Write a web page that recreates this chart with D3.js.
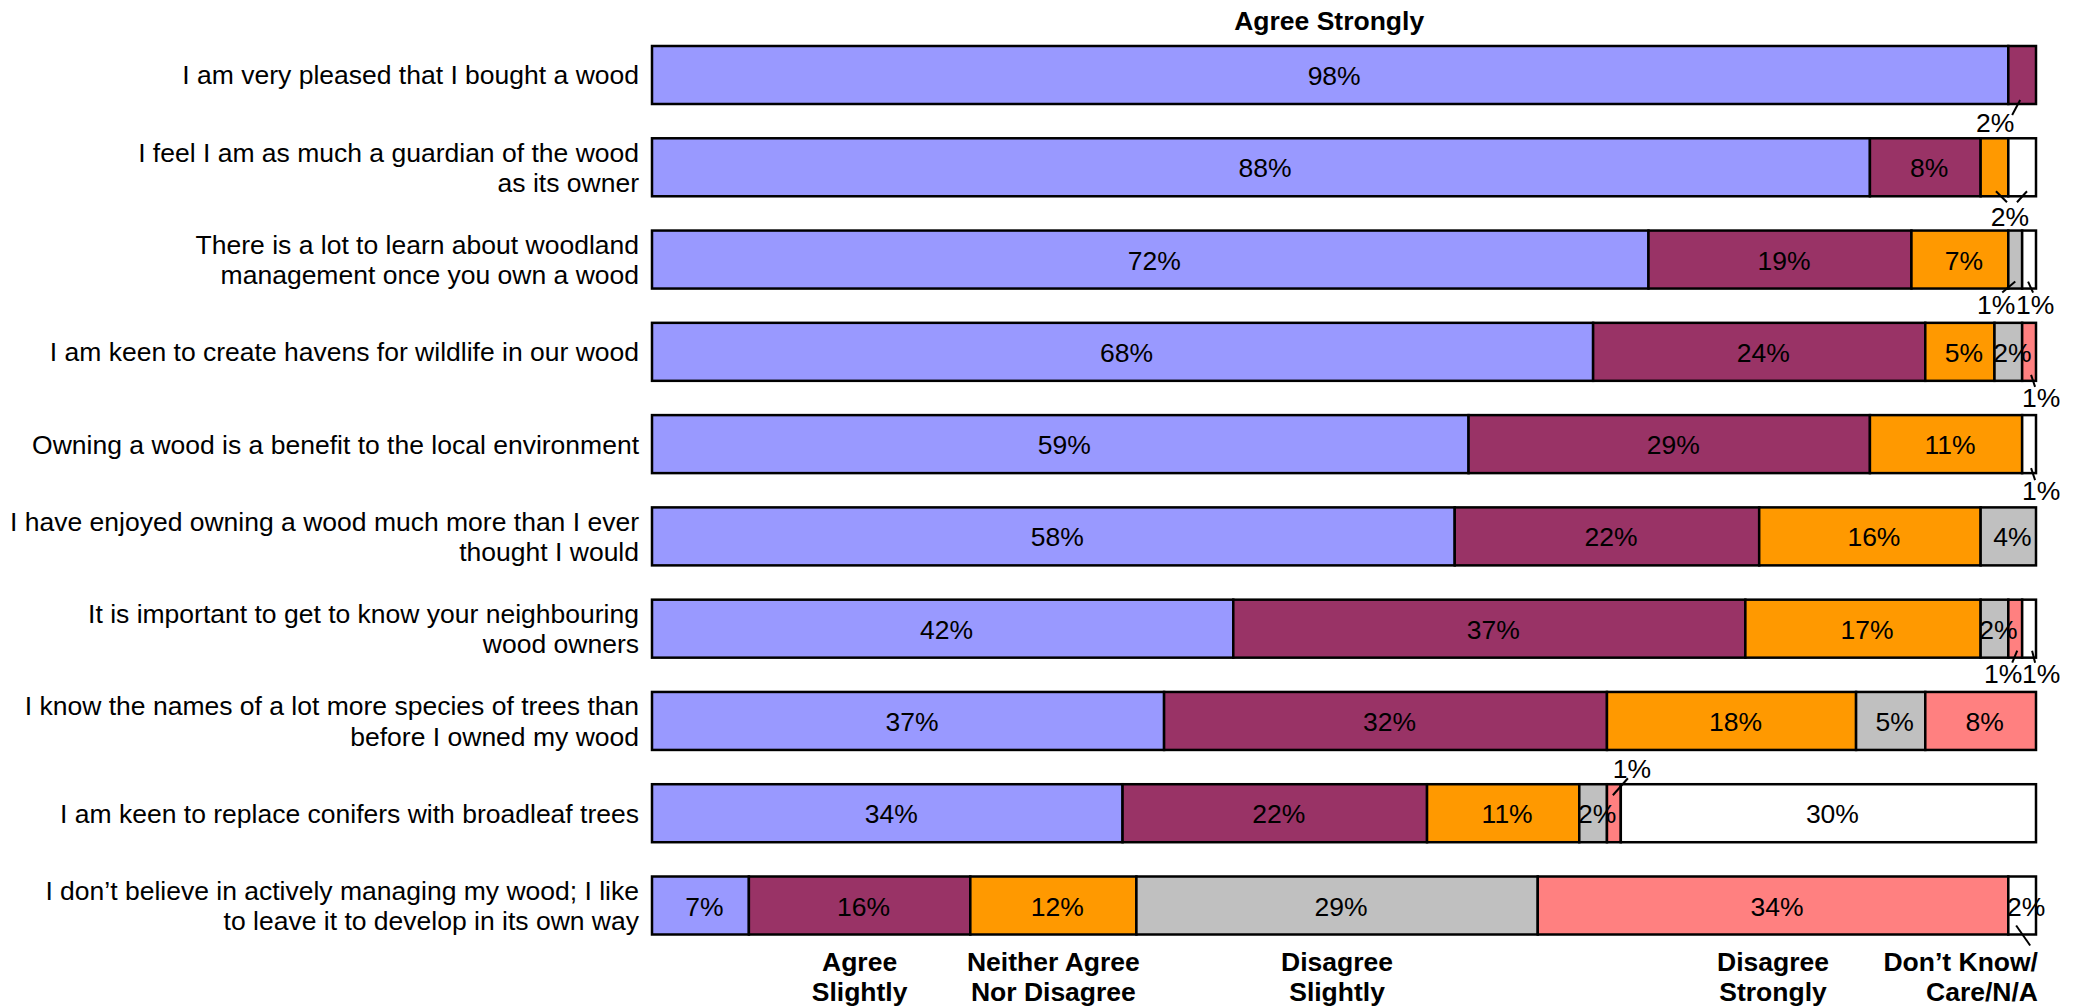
<!DOCTYPE html>
<html>
<head>
<meta charset="utf-8">
<script src="https://cdn.jsdelivr.net/npm/d3@7"></script>
<style>
  html, body { margin: 0; padding: 0; background: #fff; }
  svg { display: block; }
  text { font-family: "Liberation Sans", Arial, sans-serif; fill: #000; }
</style>
</head>
<body>
<script>
// ---------------- DATA ----------------
const statements = [
  "I am very pleased that I bought a wood",
  "I feel I am as much a guardian of the wood|as its owner",
  "There is a lot to learn about woodland|management once you own a wood",
  "I am keen to create havens for wildlife in our wood",
  "Owning a wood is a benefit to the local environment",
  "I have enjoyed owning a wood much more than I ever|thought I would",
  "It is important to get to know your neighbouring|wood owners",
  "I know the names of a lot more species of trees than|before I owned my wood",
  "I am keen to replace conifers with broadleaf trees",
  "I don\u2019t believe in actively managing my wood; I like|to leave it to develop in its own way"
];
const categories = ["Agree Strongly", "Agree Slightly", "Neither Agree Nor Disagree",
                    "Disagree Slightly", "Disagree Strongly", "Don\u2019t Know/Care/N/A"];
const categoryLabelLines = [
  ["Agree Strongly"],
  ["Agree", "Slightly"],
  ["Neither Agree", "Nor Disagree"],
  ["Disagree", "Slightly"],
  ["Disagree", "Strongly"],
  ["Don\u2019t Know/", "Care/N/A"]
];
const agreeStrongly    = [98, 88, 72, 68, 59, 58, 42, 37, 34, 7];
const agreeSlightly    = [2, 8, 19, 24, 29, 22, 37, 32, 22, 16];
const neitherAgree     = [0, 2, 7, 5, 11, 16, 17, 18, 11, 12];
const disagreeSlightly = [0, 0, 1, 2, 0, 4, 2, 5, 2, 29];
const disagreeStrongly = [0, 0, 0, 1, 0, 0, 1, 8, 1, 34];
const dontKnow         = [0, 2, 1, 0, 1, 0, 1, 0, 30, 2];
const colors = ["#9999FF", "#993366", "#FF9900", "#C0C0C0", "#FF8080", "#FFFFFF"];

// ---------------- LAYOUT ----------------
const W = 2076, H = 1007;
const FS = 26.5;
const series = [agreeStrongly, agreeSlightly, neitherAgree, disagreeSlightly, disagreeStrongly, dontKnow];
const rows = statements.map((s, i) => {
  let acc = 0;
  const segs = series.map((arr, k) => {
    const seg = {row: i, cat: k, v: arr[i], x0: acc, x1: acc + arr[i]};
    acc += arr[i];
    return seg;
  });
  return {label: s, segs};
});

const svg = d3.select("body").append("svg").attr("width", W).attr("height", H);

const x = d3.scaleLinear().domain([0, 100]).range([652, 2036]);
const y = d3.scaleBand().domain(d3.range(statements.length))
  .range([28.86, 951.64]).paddingInner(0.3715).paddingOuter(0.3715 / 2);
const bw = y.bandwidth();
const cy = i => y(i) + bw / 2;
const segCx = s => (x(s.x0) + x(s.x1)) / 2;

// Segments
const segData = rows.flatMap(r => r.segs).filter(s => s.v > 0);
svg.append("g").selectAll("rect").data(segData).join("rect")
  .attr("x", d => x(d.x0)).attr("y", d => y(d.row))
  .attr("width", d => x(d.x1) - x(d.x0)).attr("height", bw)
  .attr("fill", d => colors[d.cat])
  .attr("stroke", "#000").attr("stroke-width", 2.5);

// External labels (small segments): positions relative to segment centre / bar edge
const external = [
  {row: 0, cats: [1], text: "2%", lx: -27, ly: 28, edge: "bottom", lines: [[-2, -4, -10, 11]]},
  {row: 1, cats: [2, 5], text: "2%", anchorCat: 2, lx: 15.5, ly: 30, edge: "bottom",
   lines: [[1.5, -5, 12.5, 6], [32.5, -5, 22.5, 6]]},
  {row: 2, cats: [3], text: "1%", lx: -19, ly: 25, edge: "bottom", lines: [[0, -7, -13, 4]]},
  {row: 2, cats: [5], text: "1%", lx: 6, ly: 25, edge: "bottom", lines: [[-1, -7, 4, 4]]},
  {row: 3, cats: [4], text: "1%", lx: 12, ly: 26, edge: "bottom", lines: [[2, -6, 6, 6]]},
  {row: 4, cats: [5], text: "1%", lx: 12, ly: 27, edge: "bottom", lines: [[2, -5, 6, 7]]},
  {row: 6, cats: [4], text: "1%", lx: -12, ly: 25, edge: "bottom", lines: [[2, -7, -3, 5]]},
  {row: 6, cats: [5], text: "1%", lx: 12, ly: 25, edge: "bottom", lines: [[3, -7, 6, 5]]},
  {row: 8, cats: [4], text: "1%", lx: 18, ly: -6, edge: "top", lines: [[-1, 11, 14, -6]]}
];
const externalKeys = new Set(external.flatMap(e => e.cats.map(c => e.row + "-" + c)));

// Inside labels
svg.append("g").selectAll("text").data(segData.filter(s => !externalKeys.has(s.row + "-" + s.cat)))
  .join("text")
  .attr("x", d => segCx(d) + 4).attr("y", d => cy(d.row) + 10)
  .attr("text-anchor", "middle").attr("font-size", FS)
  .text(d => d.v + "%");

// External labels and leader lines
const gExt = svg.append("g");
external.forEach(e => {
  const seg = rows[e.row].segs[e.anchorCat !== undefined ? e.anchorCat : e.cats[0]];
  const bx = segCx(seg);
  const by = e.edge === "bottom" ? y(e.row) + bw : y(e.row);
  gExt.append("text").attr("x", bx + e.lx).attr("y", by + e.ly)
    .attr("text-anchor", "middle").attr("font-size", FS).text(e.text);
  e.lines.forEach(l => {
    gExt.append("line")
      .attr("x1", bx + l[0]).attr("y1", by + l[1]).attr("x2", bx + l[2]).attr("y2", by + l[3])
      .attr("stroke", "#000").attr("stroke-width", 2);
  });
});

// Statement labels
const gLab = svg.append("g");
rows.forEach((r, i) => {
  const lines = r.label.split("|");
  const t = gLab.append("text").attr("text-anchor", "end").attr("font-size", FS);
  const lh = 30.5;
  const first = cy(i) + 9.5 - (lines.length - 1) * lh / 2;
  lines.forEach((ln, j) => {
    t.append("tspan").attr("x", 639).attr("y", first + j * lh).text(ln);
  });
});

// Category (series) labels, placed over the segments of the first / last rows
const gCat = svg.append("g");
const last = rows.length - 1;
gCat.append("text").attr("x", segCx(rows[0].segs[0]) - 1).attr("y", 30)
  .attr("text-anchor", "middle").attr("font-size", FS).attr("font-weight", "bold")
  .text(categoryLabelLines[0][0]);
[1, 2, 3, 4].forEach(k => {
  const t = gCat.append("text").attr("text-anchor", "middle").attr("font-size", FS)
    .attr("font-weight", "bold");
  categoryLabelLines[k].forEach((ln, j) => {
    t.append("tspan").attr("x", segCx(rows[last].segs[k])).attr("y", 971 + j * 30).text(ln);
  });
});
{
  const t = gCat.append("text").attr("text-anchor", "end").attr("font-size", FS)
    .attr("font-weight", "bold");
  categoryLabelLines[5].forEach((ln, j) => {
    t.append("tspan").attr("x", x(100) + 2).attr("y", 971 + j * 30).text(ln);
  });
  const s = rows[last].segs[5];
  const bx = segCx(s), by = y(last) + bw;
  gCat.append("line").attr("x1", bx - 6).attr("y1", by - 9).attr("x2", bx + 8).attr("y2", by + 11)
    .attr("stroke", "#000").attr("stroke-width", 2);
}
</script>
</body>
</html>
